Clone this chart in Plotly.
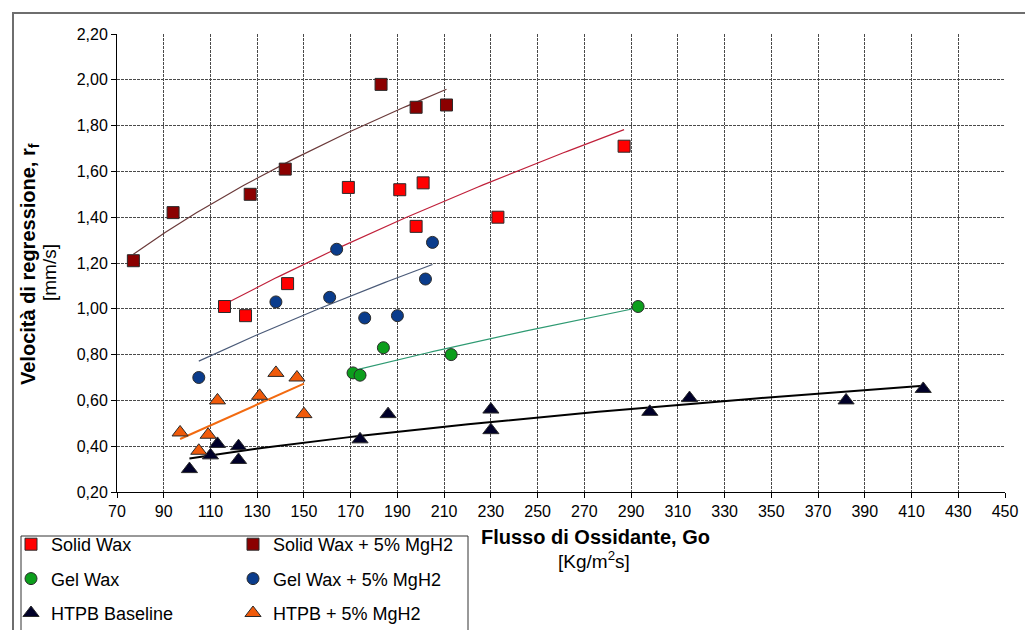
import numpy as np
import plotly.graph_objects as go

# ---------------- data ----------------
solid_wax_x = [116, 125, 143, 169, 191, 198, 201, 233, 287]
solid_wax_y = [1.01, 0.97, 1.11, 1.53, 1.52, 1.36, 1.55, 1.40, 1.71]

solid_mg_x = [77, 94, 127, 142, 183, 198, 211]
solid_mg_y = [1.21, 1.42, 1.50, 1.61, 1.98, 1.88, 1.89]

gel_wax_x = [171, 174, 184, 213, 293]
gel_wax_y = [0.72, 0.71, 0.83, 0.80, 1.01]

gel_mg_x = [105, 138, 161, 164, 176, 190, 202, 205]
gel_mg_y = [0.70, 1.03, 1.05, 1.26, 0.96, 0.97, 1.13, 1.29]

htpb_x = [101, 110, 113, 122, 122, 174, 186, 230, 230, 298, 315, 382, 415]
htpb_y = [0.30, 0.36, 0.41, 0.40, 0.34, 0.43, 0.54, 0.56, 0.47, 0.55, 0.61, 0.60, 0.65]

htpb_mg_x = [97, 105, 109, 113, 131, 138, 147, 150]
htpb_mg_y = [0.46, 0.38, 0.45, 0.60, 0.62, 0.72, 0.70, 0.54]

x_ticks = list(range(70, 451, 20))
y_ticks = [0.2, 0.4, 0.6, 0.8, 1.0, 1.2, 1.4, 1.6, 1.8, 2.0, 2.2]

# ---------------- layout geometry (pixels) ----------------
W, H = 1033, 630
ML, MR, MT, MB = 109, 36, 26, 146
PW, PH = W - ML - MR, H - MT - MB


def px(xp):
    return (xp - ML) / PW


def py(yp):
    return (H - MB - yp) / PH


FONT = "Arial, Liberation Sans, sans-serif"

series = [
    dict(name="Solid Wax", x=solid_wax_x, y=solid_wax_y, sym="square", size=12,
         color="#FF0000", line="#C0203A", lw=1.2, legend="legend"),
    dict(name="Solid Wax + 5% MgH2", x=solid_mg_x, y=solid_mg_y, sym="square", size=12,
         color="#8B0000", line="#6B3A3A", lw=1.2, legend="legend2"),
    dict(name="Gel Wax", x=gel_wax_x, y=gel_wax_y, sym="circle", size=12,
         color="#0C9E1C", line="#2E9A72", lw=1.2, legend="legend"),
    dict(name="Gel Wax + 5% MgH2", x=gel_mg_x, y=gel_mg_y, sym="circle", size=12,
         color="#0A3C8C", line="#4A5A78", lw=1.2, legend="legend2"),
    dict(name="HTPB Baseline", x=htpb_x, y=htpb_y, sym="triangle-up", size=14,
         color="#000028", line="#000000", lw=2, legend="legend"),
    dict(name="HTPB + 5% MgH2", x=htpb_mg_x, y=htpb_mg_y, sym="triangle-up", size=14,
         color="#F05A0A", line="#F26A10", lw=2, legend="legend2"),
]

fig = go.Figure()

# power-law trendlines (least squares in log-log space, like Excel)
for s in series:
    lx = np.log(np.array(s["x"], float))
    ly = np.log(np.array(s["y"], float))
    n, lna = np.polyfit(lx, ly, 1)
    xs = np.linspace(min(s["x"]), max(s["x"]), 80)
    ys = np.exp(lna) * xs ** n
    fig.add_trace(go.Scatter(x=xs, y=ys, mode="lines", showlegend=False,
                             hoverinfo="skip",
                             line=dict(color=s["line"], width=s["lw"])))

for i, s in enumerate(series):
    fig.add_trace(go.Scatter(
        x=s["x"], y=s["y"], mode="markers", name=s["name"],
        legend=s["legend"], legendgroup=s["name"],
        marker=dict(symbol=s["sym"], size=s["size"], color=s["color"],
                    line=dict(color="#2a2a2a", width=1)),
    ))

grid = dict(showgrid=True, gridcolor="#4a4a4a", gridwidth=1, griddash="3px,1px")

fig.update_xaxes(range=[70, 450], tickmode="array", tickvals=x_ticks,
                 ticktext=[str(v) for v in x_ticks], tickangle=0,
                 showline=True, linecolor="#000", linewidth=1,
                 ticks="outside", ticklen=5, tickcolor="#000",
                 tickfont=dict(family=FONT, size=16, color="#000"),
                 zeroline=False, automargin=False, **grid)
fig.update_yaxes(range=[0.2, 2.2], tickmode="array", tickvals=y_ticks,
                 tickformat=".2f",
                 showline=True, linecolor="#000", linewidth=1,
                 ticks="outside", ticklen=5, tickcolor="#000",
                 tickfont=dict(family=FONT, size=16, color="#000"),
                 zeroline=False, automargin=False, **grid)

legend_common = dict(
    orientation="v", xref="container", yref="container",
    yanchor="top", xanchor="left", bgcolor="rgba(0,0,0,0)",
    borderwidth=0, font=dict(family=FONT, size=18, color="#000"),
    tracegroupgap=8, itemwidth=30,
)

fig.update_layout(
    width=W, height=H,
    margin=dict(l=ML, r=MR, t=MT, b=MB, autoexpand=False),
    paper_bgcolor="#FFFFFF", plot_bgcolor="#FFFFFF",
    separators=",.",
    font=dict(family=FONT, color="#000"),
    legend=dict(x=3 / W, y=1 - 518 / H, **legend_common),
    legend2=dict(x=225 / W, y=1 - 518 / H, **legend_common),
    shapes=[
        # outer chart frame
        dict(type="rect", xref="paper", yref="paper",
             x0=px(5), x1=px(1045), y0=py(640), y1=py(5),
             line=dict(color="#6e6e6e", width=2), layer="below"),
        # legend box
        dict(type="rect", xref="paper", yref="paper",
             x0=px(13), x1=px(460), y0=py(627), y1=py(528),
             line=dict(color="#333333", width=1)),
    ],
    annotations=[
        dict(text="<b>Flusso di Ossidante, Go</b>", xref="paper", yref="paper",
             x=px(587), y=py(529), xanchor="center", yanchor="middle",
             showarrow=False, font=dict(family=FONT, size=20, color="#000")),
        dict(text="[Kg/m<sup>2</sup>s]", xref="paper", yref="paper",
             x=px(586), y=py(552), xanchor="center", yanchor="middle",
             showarrow=False, font=dict(family=FONT, size=19, color="#000")),
        dict(text="<b>Velocità di regressione, r<sub>f</sub></b>", xref="paper", yref="paper",
             x=px(22), y=py(256), xanchor="center", yanchor="middle",
             showarrow=False, textangle=-90,
             font=dict(family=FONT, size=20, color="#000")),
        dict(text="[mm/s]", xref="paper", yref="paper",
             x=px(41), y=py(265), xanchor="center", yanchor="middle",
             showarrow=False, textangle=-90,
             font=dict(family=FONT, size=19, color="#000")),
    ],
)

fig.write_html("out.html")
